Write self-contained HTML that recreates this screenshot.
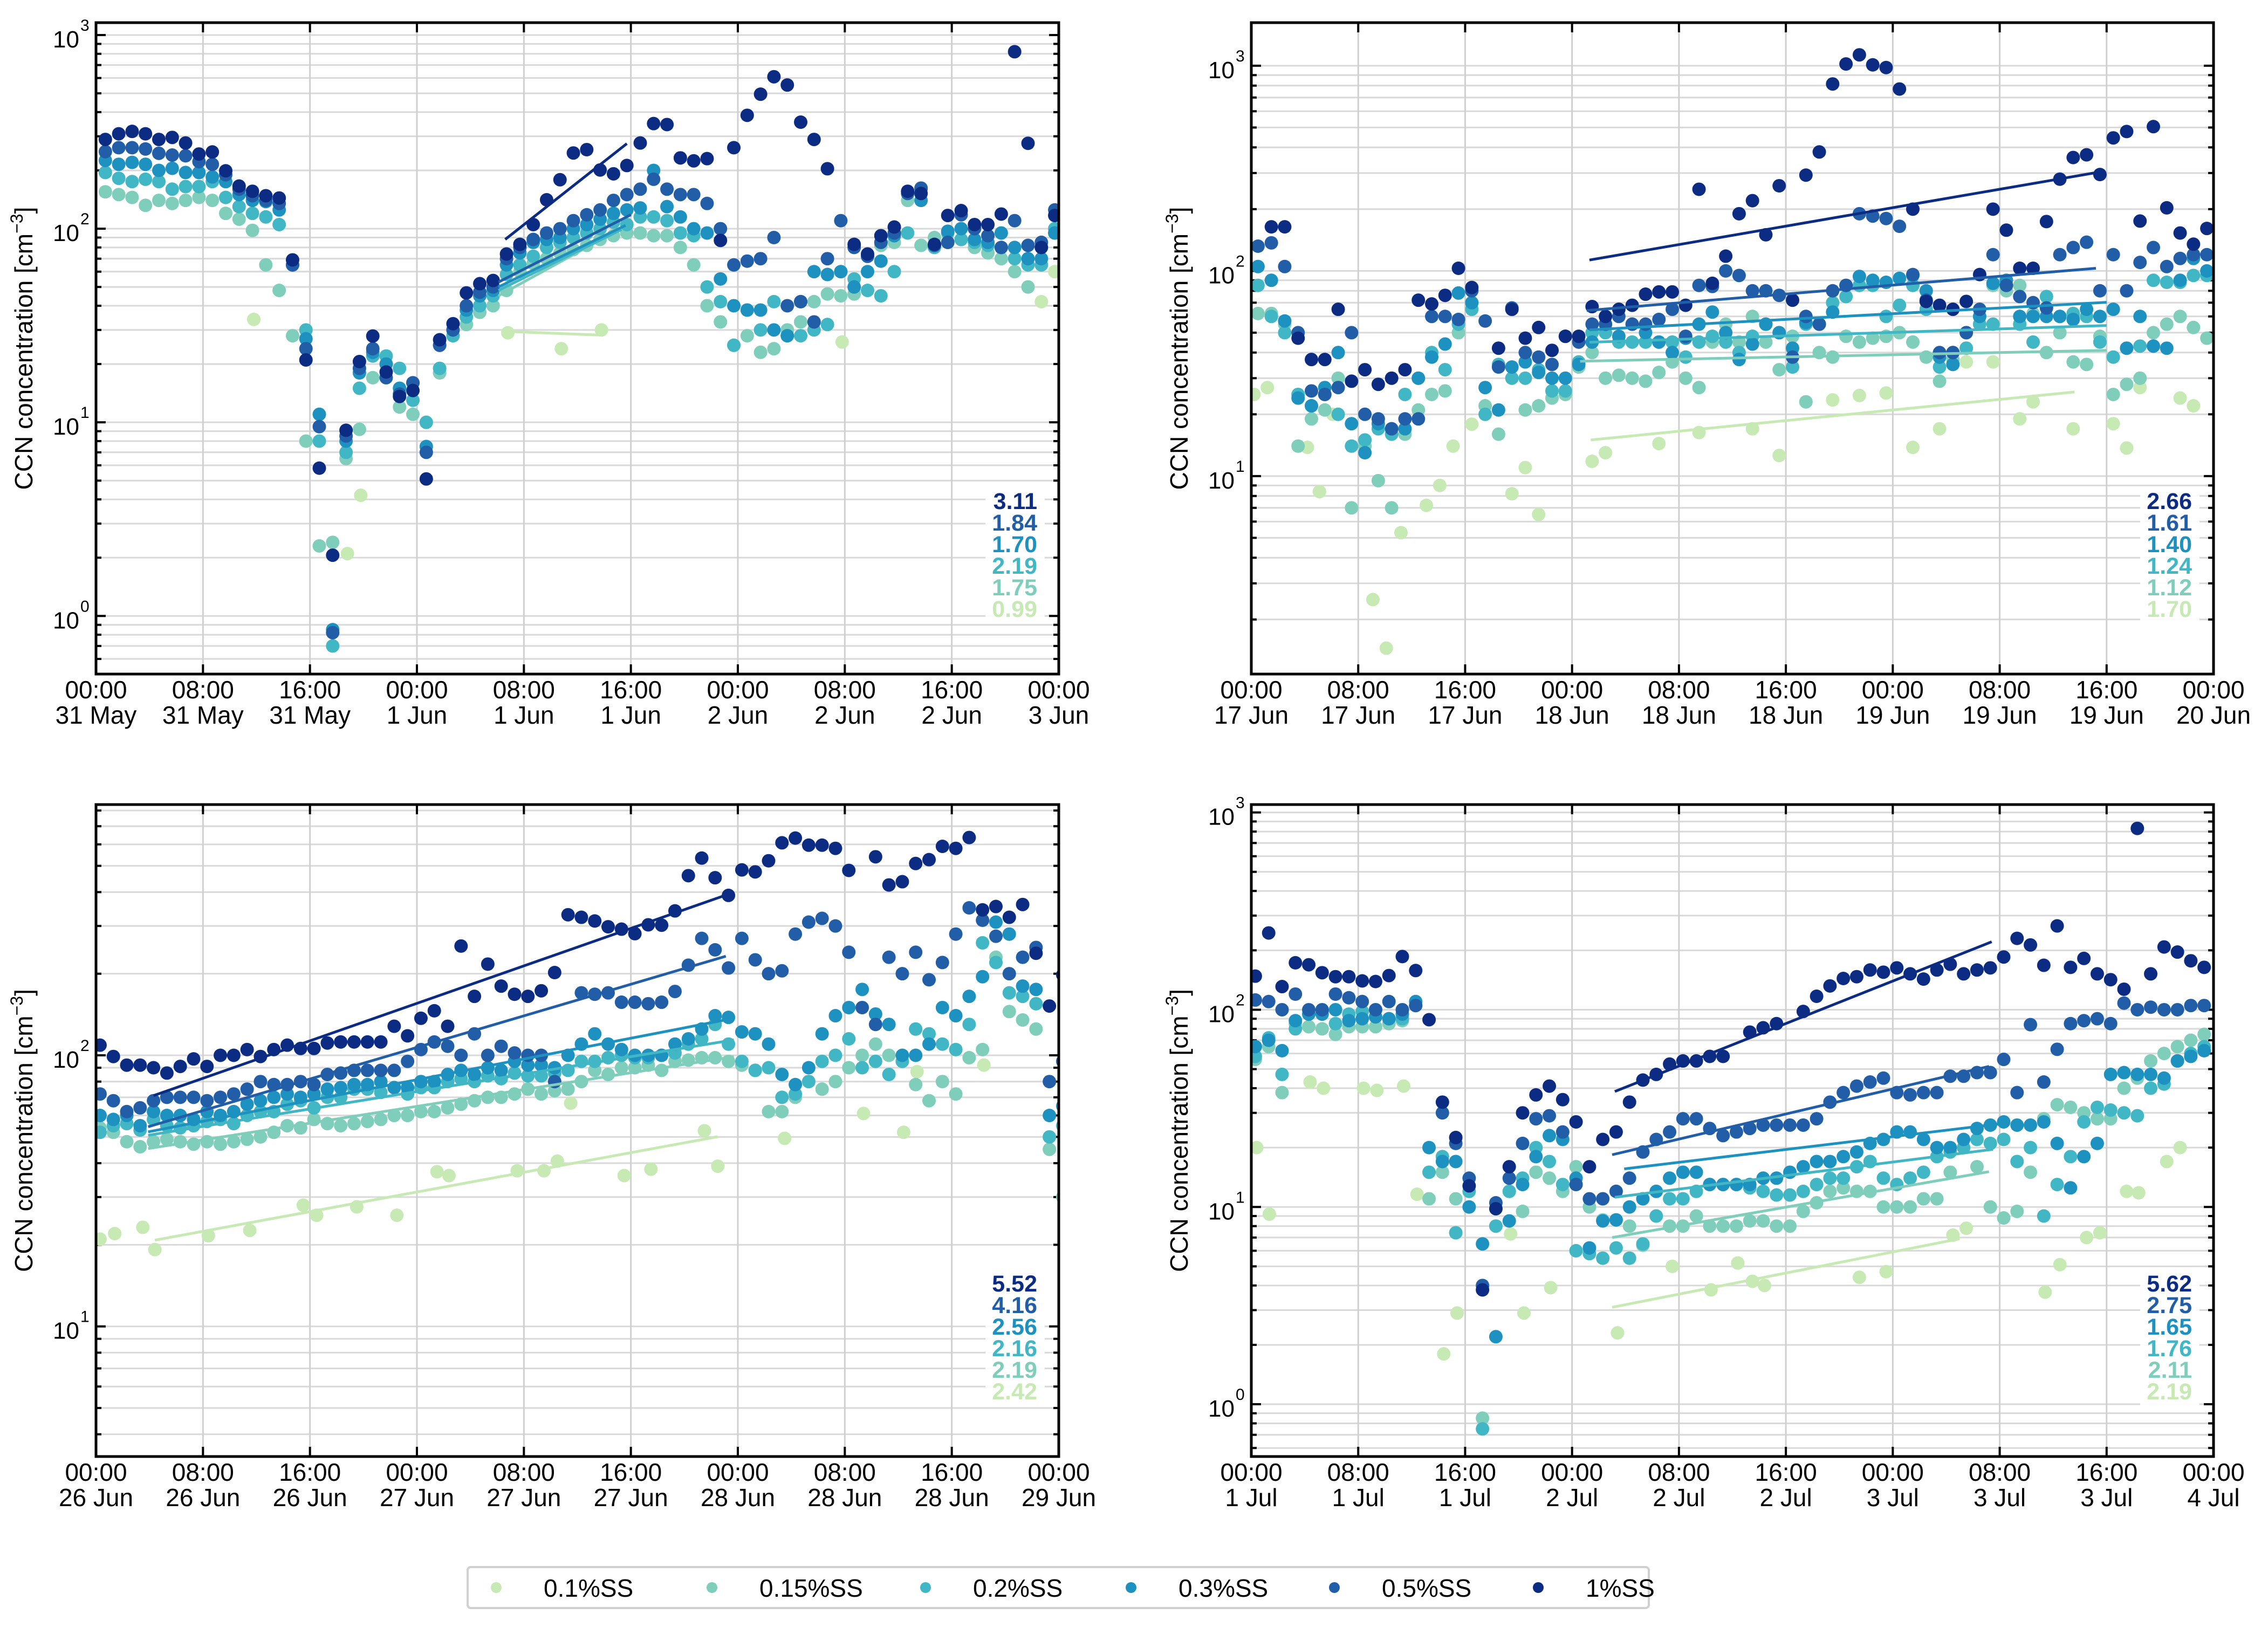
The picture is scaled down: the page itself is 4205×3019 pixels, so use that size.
<!DOCTYPE html>
<html><head><meta charset="utf-8">
<style>
html,body{margin:0;padding:0;background:#fff;}
svg{display:block;font-family:"Liberation Sans",Arial,sans-serif;}
</style></head>
<body>
<svg id="fig" xmlns="http://www.w3.org/2000/svg" width="4205" height="3019" viewBox="0 0 4205 3019">
<rect width="4205" height="3019" fill="#fff"/>
<g id="legend">
  <rect x="867" y="2906" width="2190" height="76" rx="6" fill="#fff" stroke="#d0d0d0" stroke-width="4"/>
</g>
</svg>
<script>
const seriesNames = ["0.1%SS","0.15%SS","0.2%SS","0.3%SS","0.5%SS","1%SS"];
const seriesColors = ["#c7e9b4","#7fcdbb","#41b6c4","#1d91c0","#225ea8","#0c2c84"];

/* ---------- Panel A: 31 May - 3 Jun ---------- */
const aDates = ["31 May","31 May","31 May","1 Jun","1 Jun","1 Jun","2 Jun","2 Jun","2 Jun","3 Jun"];
const aStart = 0.7;
const aS1 = [289,309,318,309,289,296,277,243,249,199,166,156,148,144,69,21,5.8,2.06,9.1,20.6,27.9,18.2,13.6,14.6,5.1,26.7,32.3,46.6,52,54,74,83,105,141,179,246,256,201,192,212,277,349,345,232,224,230,87,262,385,495,609,552,355,289,204,null,83,74,92,102,156,152,83,117,124,105,105,119,820,276,80,117];
const aS05 = [250,262,262,258,245,240,238,222,215,190,160,148,140,135,65,24,9.5,0.82,8.5,19,24,17,14,16,7,25,30,40,47,50,70,80,88,95,100,110,118,125,140,150,160,180,160,150,150,135,100,65,68,70,90,40,42,33,70,110,80,72,85,95,152,162,82,85,118,100,92,80,110,82,85,125];
const aS03 = [225,215,220,215,200,205,195,195,185,175,150,140,138,125,65,27,11,0.85,8,18,23,20,15,16,7.5,25,30,38,45,48,65,75,85,88,90,100,105,112,120,125,128,200,130,115,100,95,55,40,38,38,30,28,42,60,58,60,50,60,68,92,155,140,82,97,100,88,85,95,80,70,70,95];
const aS02 = [195,182,175,180,175,160,165,165,175,145,130,120,115,105,65,30,8,0.7,7,15,22,22,19,13,10,19,28,35,40,45,58,65,72,80,85,90,95,100,108,105,115,115,110,95,92,50,42,25,38,30,42,28,28,30,32,60,55,48,45,60,95,160,80,95,88,85,82,80,70,65,65,100];
const aS015 = [155,150,145,132,140,135,140,145,140,120,112,98,65,48,28,8,2.3,2.4,6.5,9.2,17,20,12,11,10,18,28,32,37,40,48,60,66,70,75,78,82,88,92,95,95,92,92,80,65,40,33,25,28,23,24,30,33,42,46,45,46,72,82,85,140,82,90,85,88,80,75,70,60,50,null,95];
const aS01t = [11.8,18.8,19.8,25.7,30.8,34.8,37.8,55.8,69.7,70.7,71.7];
const aS01 = [34,2.1,4.2,18,29,24,30,26,50,42,60];
const aFits = [[30.6,29.5,37.8,28.2],[30.1,45,39,98],[30.1,48,39.3,99],[30.1,50,39.6,104],[30.1,53,40,118],[30.6,88,39.7,275]];
const aSlopes = ["0.99","1.75","2.19","1.70","1.84","3.11"];

/* ---------- Panel B: 17 Jun - 20 Jun ---------- */
const bDates = ["17 Jun","17 Jun","17 Jun","18 Jun","18 Jun","18 Jun","19 Jun","19 Jun","19 Jun","20 Jun"];
const bStart = 0.5;
const bS1 = [null,164,164,47,37,37,65,29,33,28,30,33,72,69,76,103,83,null,42,65,47,53,41,48,48,67,60,65,68,77,79,79,68,250,87,118,190,220,150,260,72,293,380,815,1020,1130,1010,980,770,200,71,68,65,71,96,200,158,103,103,174,280,357,368,295,445,478,175,505,203,153,135,161,174];
const bS05 = [132,137,105,50,26,25,27,50,20,19,17,19,19,60,60,58,80,57,34,66,40,38,35,48,45,55,55,60,55,55,58,65,48,85,84,100,95,80,80,76,38,60,55,80,85,190,185,180,165,96,72,40,40,50,65,120,85,75,70,66,120,130,138,80,120,80,110,130,105,115,120,120,125];
const bS03 = [105,90,57,24,22,27,40,18,13,18,17,17,30,38,44,78,70,27,21,34,36,32,30,30,35,45,55,48,55,50,45,40,47,55,63,50,37,44,55,50,42,56,55,63,85,94,90,88,92,95,80,38,35,50,60,87,90,60,60,60,60,58,65,60,65,42,60,43,42,90,115,100,100];
const bS02 = [85,60,50,25,22,25,20,14,15,17,16,25,30,40,33,55,65,20,35,30,30,33,26,26,36,50,50,45,45,45,45,45,38,45,48,45,40,48,55,50,34,55,55,70,75,85,85,60,68,85,65,34,40,42,55,55,85,55,45,75,60,62,60,45,38,42,43,90,88,88,95,95,75];
const bS015 = [62,62,55,14,19,21,30,7,14,9.5,7,16,21,25,26,50,70,22,16,65,21,22,24,25,34,40,30,31,30,29,32,36,30,27,45,55,45,60,45,33,48,23,40,38,48,45,47,48,50,45,38,29,37,42,60,85,80,85,62,40,50,36,35,48,25,28,30,50,55,60,53,47,75];
const bS01t = [0.2,1.2,4.2,5.1,6.1,9.1,10.1,11.2,13.1,14.1,15.1,16.5,19.5,20.5,21.5,25.5,26.5,30.5,33.5,37.5,39.5,41.5,43.5,45.5,47.5,49.5,51.5,53.5,55.5,57.5,58.5,61.5,64.5,65.5,66.5,69.5,70.5];
const bS01 = [25,27,13.8,8.4,20,2.5,1.45,5.3,7.2,9,14,17.9,8.2,11,6.5,11.8,13,14.4,16.3,17,12.6,23,23.5,24.7,25.4,13.8,17,36,36,19,23,17,18,13.7,27,24,22];
const bFits = [[25.4,15,61.6,25.7],[24.6,36.3,64,41],[25.3,44.9,64,54.2],[25.3,51.6,64,70.3],[25.1,64.1,63.2,103],[25.3,113,63.3,302]];
const bSlopes = ["1.70","1.12","1.24","1.40","1.61","2.66"];

/* ---------- Panel C: 26 Jun - 29 Jun ---------- */
const cDates = ["26 Jun","26 Jun","26 Jun","27 Jun","27 Jun","27 Jun","28 Jun","28 Jun","28 Jun","29 Jun"];
const cStart = 0.3;
const cS1 = [109,99,92,92,90,86,91,97,91,100,100,105,99,105,109,106,106,111,112,112,112,112,128,118,137,146,128,253,165,217,180,168,165,173,202,330,323,313,298,292,281,303,302,341,460,534,452,389,483,475,522,608,633,596,596,580,481,null,540,425,437,510,527,590,580,636,344,354,323,360,238,152,198];
const cS05 = [72,68,62,64,68,70,70,70,68,70,72,75,80,78,78,80,78,85,86,88,88,88,88,95,105,112,108,100,120,100,108,102,100,100,80,null,170,168,170,157,157,155,157,172,215,270,245,210,270,225,200,205,280,310,320,300,240,150,130,230,200,240,190,220,280,350,315,275,200,230,250,80,95];
const cS03 = [60,58,60,55,62,60,60,58,62,60,62,66,68,70,72,70,72,75,76,78,78,80,76,76,80,80,85,88,85,90,88,95,92,92,90,100,110,120,110,105,100,100,100,110,115,125,140,138,122,120,110,85,78,90,120,140,150,175,142,130,100,100,110,150,140,165,195,310,280,180,175,60,65];
const cS02 = [52,55,56,53,58,55,54,55,57,58,56,60,62,62,66,68,64,70,70,75,75,73,76,72,76,76,80,82,80,84,82,86,84,84,86,88,95,95,98,100,98,98,100,102,110,115,130,110,95,88,90,70,72,80,95,100,115,90,95,85,95,125,120,110,105,130,260,220,170,165,155,50,55];
const cS015 = [54,52,48,46,48,49,48,47,48,47,48,49,50,52,55,54,58,56,55,56,57,58,60,60,62,62,64,66,68,70,70,72,75,72,74,75,80,88,85,90,90,92,88,95,96,98,98,95,92,88,62,62,70,80,75,80,90,100,110,100,95,78,68,80,72,98,105,230,145,135,125,45,30];
const cS01t = [0.3,1.4,3.5,4.4,8.4,11.5,15.5,16.5,19.5,22.5,25.5,26.4,31.5,33.5,34.5,35.5,39.5,41.5,45.5,46.5,51.5,57.4,60.4,61.4,66.4];
const cS01 = [21,22,23.2,19.2,21.6,22.6,28,25.7,27.6,25.7,37.2,36,37.5,37.5,40.7,66.6,36,38,52.7,39,49.4,61,52,87,92];
const cFits = [[4.4,20.8,46.5,50.1],[3.9,45.3,47.7,98.9],[3.9,50.7,47.7,114],[3.9,52.2,47.7,137],[3.9,54.5,47.1,232],[4.3,71,47.3,393]];
const cSlopes = ["2.42","2.19","2.16","2.56","4.16","5.52"];

/* ---------- Panel D: 1 Jul - 4 Jul ---------- */
const dDates = ["1 Jul","1 Jul","1 Jul","2 Jul","2 Jul","2 Jul","3 Jul","3 Jul","3 Jul","4 Jul"];
const dStart = 0.3;
const dS1 = [148,245,131,173,169,154,147,147,140,139,149,186,158,89,34,22.5,12.8,3.8,9.8,16,30,37,41,35,27,16,22,24,34,44,47,53,55,55,58,58,null,77,81,85,null,98,117,132,144,147,159,155,163,152,143,159,170,152,159,163,185,230,213,168,266,164,182,152,142,127,830,152,208,196,177,164];
const dS05 = [112,110,100,120,100,100,120,115,110,100,110,100,105,null,30,21,14,4,10.5,14,21,28,29,24,13,11,11,12,14,19,22,24,28,28,25,23,24,25,26,26,26,26,28,34,38,41,43,45,38,37,38,38,46,46,48,48,56,38,84,43,63,85,88,90,85,108,100,103,100,100,105,105];
const dS03 = [65,70,62,88,95,95,100,88,90,92,90,95,110,20,17,17,10,6.5,2.2,8.5,13,18,23,22,14,6.2,8.5,8.6,10,11,12,14,15,15,13,13,13,13,14,14,15,16,17,17,18,19,21,22,24,24,22,20,20,22,25,26,27,26,26,27,21,12.5,18,21,47,48,47,47,45,55,58,62];
const dS02 = [58,72,47,80,95,98,85,95,98,100,90,90,105,15,18,7.4,12,0.75,8,12,14,20,17,13,6,5.8,5.5,6.2,5.5,6.5,9,11,11,12,13,13,13,12.5,12,11.5,11.5,12,13,14,14,16,17,14,13,14,15,18,19,20,22,21,22,17,20,9,13,18,27,32,31,30,29,40,42,55,60,65];
const dS015 = [56,65,38,85,82,80,75,82,82,82,85,88,null,11,15,11,10,0.85,8,12,9.5,15,14,12,16,10,8.6,8.6,8,6.4,9,8,8,9,8,8,8,8.5,8.5,8,8,9.5,10.5,12,12.5,12,12,10,10,10,11,11,15,20,16,10,8.8,9.5,15,28,33,32,30,28,28,40,45,55,60,65,70,75];
const dS01t = [0.4,1.35,4.4,5.4,8.4,9.4,11.4,12.4,14.4,15.4,19.4,20.4,22.4,27.4,31.5,34.4,36.4,37.5,38.4,45.5,47.5,52.5,53.5,59.4,60.5,62.5,63.5,65.5,66.4,68.5,69.5];
const dS01 = [20,9.2,43,40,40,39,41,11.6,1.8,2.9,7.3,2.9,3.9,2.3,5,3.8,5.2,4.2,4,4.4,4.7,7.2,7.8,3.7,5.1,7,7.4,12,11.8,17,20];
const dFits = [[27,3.1,53,6.9],[27,7.0,55.2,15.1],[27.2,11.2,55.5,19.6],[27.9,15.6,56,26.4],[27,18.4,55.2,51.6],[27.2,38.5,55.4,221]];
const dSlopes = ["2.19","2.11","1.76","1.65","2.75","5.62"];

/* ---------- Layout (not data) ---------- */
const panels = [
  {id:"a", x0:178, x1:1963, y0:42, y1:1250, lmin:-0.30, lmax:3.064, decades:[0,1,2,3], dates:aDates, start:aStart,
   hourly:[aS015,aS02,aS03,aS05,aS1], sparseT:aS01t, sparseV:aS01, fits:aFits, slopes:aSlopes},
  {id:"b", x0:2320, x1:4104, y0:42, y1:1250, lmin:0.035, lmax:3.21, decades:[1,2,3], dates:bDates, start:bStart,
   hourly:[bS015,bS02,bS03,bS05,bS1], sparseT:bS01t, sparseV:bS01, fits:bFits, slopes:bSlopes},
  {id:"c", x0:178, x1:1963, y0:1492, y1:2701, lmin:0.52, lmax:2.925, decades:[1,2], dates:cDates, start:cStart,
   hourly:[cS015,cS02,cS03,cS05,cS1], sparseT:cS01t, sparseV:cS01, fits:cFits, slopes:cSlopes},
  {id:"d", x0:2320, x1:4104, y0:1492, y1:2701, lmin:-0.265, lmax:3.04, decades:[0,1,2,3], dates:dDates, start:dStart,
   hourly:[dS015,dS02,dS03,dS05,dS1], sparseT:dS01t, sparseV:dS01, fits:dFits, slopes:dSlopes}
];

const NS = "http://www.w3.org/2000/svg";
const svg = document.getElementById("fig");
function mk(tag, attrs, parent){
  const e = document.createElementNS(NS, tag);
  for (const k in attrs) e.setAttribute(k, attrs[k]);
  (parent||svg).appendChild(e);
  return e;
}

panels.forEach(function(p){
  const xs = function(t){ return p.x0 + (t/72)*(p.x1-p.x0); };
  const ys = function(v){ return p.y1 - (Math.log10(v)-p.lmin)/(p.lmax-p.lmin)*(p.y1-p.y0); };
  const g = mk("g", {});
  
  
  const clipId = "clip-" + p.id;
  const cp = mk("clipPath", {id:clipId}, g);
  mk("rect", {x:p.x0, y:p.y0, width:p.x1-p.x0, height:p.y1-p.y0}, cp);

  const grid = mk("g", {stroke:"#d9d9d9", "stroke-width":"3"}, g);
  
  
  for (let d=Math.floor(p.lmin); d<=Math.ceil(p.lmax); d++){
    for (let m=1; m<=9; m++){
      const lv = d + Math.log10(m);
      if (lv < p.lmin || lv > p.lmax) continue;
      const y = ys(Math.pow(10, lv));
      mk("line", {x1:p.x0, x2:p.x1, y1:y, y2:y}, grid);
      mk("line", {x1:p.x1-(m===1?18:10), x2:p.x1, y1:y, y2:y, stroke:"#000", "stroke-width":"4"}, g);
      mk("line", {x1:p.x0, x2:p.x0+(m===1?18:10), y1:y, y2:y, stroke:"#000", "stroke-width":"4"}, g);
    }
  }
  for (let k=1; k<9; k++){
    const x = xs(k*8);
    mk("line", {x1:x, x2:x, y1:p.y0, y2:p.y1, stroke:"#d0d0d0", "stroke-width":"3"}, grid);
  }
  for (let k=0; k<=9; k++){
    const x = xs(k*8);
    mk("line", {x1:x, x2:x, y1:p.y1, y2:p.y1-18, stroke:"#000", "stroke-width":"4"}, g);
    mk("line", {x1:x, x2:x, y1:p.y0, y2:p.y0+18, stroke:"#000", "stroke-width":"4"}, g);
    const hh = ((k*8)%24);
    const lbl1 = mk("text", {x:x, y:p.y1+45, "font-size":"46", "text-anchor":"middle", fill:"#000"}, g);
    lbl1.textContent = (hh<10?"0":"") + hh + ":00";
    
    
    const lbl2 = mk("text", {x:x, y:p.y1+92, "font-size":"46", "text-anchor":"middle", fill:"#000"}, g);
    lbl2.textContent = p.dates[k];
    
    
  }
  p.decades.forEach(function(d){
    const y = ys(Math.pow(10,d));
    const t = mk("text", {x:p.x0-31, y:y+23, "font-size":"44", "text-anchor":"end", fill:"#000"}, g);
    t.textContent = "10";
    
    
    const s = mk("text", {x:p.x0-29, y:y-8, "font-size":"30", "text-anchor":"start", fill:"#000"}, g);
    s.textContent = String(d);
    
    
  });
  const cy = (p.y0+p.y1)/2;
  const yt = mk("text", {x:0, y:0, "font-size":"46", "text-anchor":"middle", fill:"#000",
    transform:"translate("+(p.x0-118)+","+cy+") rotate(-90)"}, g);
  yt.innerHTML = 'CCN concentration [cm<tspan font-size="32" dy="-18">\u22123</tspan><tspan dy="18">]</tspan>';
  
  

  const dg = mk("g", {"clip-path":"url(#"+clipId+")"}, g);
  
  
  p.sparseT.forEach(function(t, i){
    const c = mk("circle", {cx:xs(t), cy:ys(p.sparseV[i]), r:12.5, fill:seriesColors[0]}, dg);
    
    
  });
  p.hourly.forEach(function(arr, si){
    arr.forEach(function(v, i){
      if (v === null) return;
      const t = p.start + i;
      if (t > 72.3) return;
      const c = mk("circle", {cx:xs(t), cy:ys(v), r:12.5, fill:seriesColors[si+1]}, dg);
      
      
    });
  });
  p.fits.forEach(function(f, si){
    const l = mk("line", {x1:xs(f[0]), y1:ys(f[1]), x2:xs(f[2]), y2:ys(f[3]), stroke:seriesColors[si], "stroke-width":"5"}, dg);
    
    
  });
  const ag = mk("g", {}, g);
  
  
  mk("rect", {x:p.x1-136, y:p.y1-345, width:110, height:250, fill:"#fff", opacity:"0.9"}, ag);
  for (let k=0; k<6; k++){
    const si = 5-k;
    const t = mk("text", {x:p.x1-40, y:p.y1-306+k*40, "font-size":"43", "font-weight":"bold", "text-anchor":"end", fill:seriesColors[si]}, ag);
    t.textContent = p.slopes[si];
    
    
  }
  const fr = mk("rect", {x:p.x0, y:p.y0, width:p.x1-p.x0, height:p.y1-p.y0, fill:"none", stroke:"#000", "stroke-width":"5"}, g);
  
  
});

const lg = document.getElementById("legend");
const legX = [920, 1320, 1716, 2097, 2474, 2852];
seriesNames.forEach(function(n, i){
  const c = mk("circle", {cx:legX[i], cy:2944, r:10, fill:seriesColors[i]}, lg);
  
  
  const t = mk("text", {x:legX[i]+88, y:2961, "font-size":"46", fill:"#000"}, lg);
  t.textContent = n;
  
  
});
</script>
</body></html>
